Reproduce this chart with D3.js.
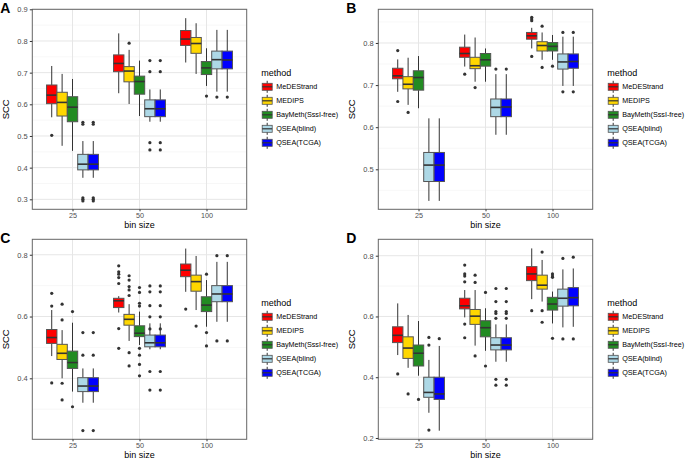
<!DOCTYPE html>
<html><head><meta charset="utf-8">
<script src="https://cdn.jsdelivr.net/npm/d3@7"></script>
<style>body{margin:0;background:#fff}svg{display:block}text{font-family:"Liberation Sans",Arial,sans-serif}</style>
</head><body><svg id="c" width="685" height="460"></svg>
<script>
const bins = ["25", "50", "100"];
const methods = ["MeDEStrand", "MEDIPS", "BayMeth(SssI-free)", "QSEA(blind)", "QSEA(TCGA)"];
const colors = ["#FF0000", "#FFD700", "#228B22", "#ADD8E6", "#0000FF"];
const panelLabels = ["A", "B", "C", "D"];

// each row: [lowWhisker, q1, median, q3, highWhisker]; rows ordered bin-major, method-minor
const statsA = [
  [0.559,0.602,0.629,0.661,0.721],[0.469,0.563,0.606,0.638,0.696],[0.453,0.545,0.591,0.624,0.680],[0.368,0.393,0.411,0.442,0.484],[0.368,0.393,0.411,0.442,0.484],
  [0.635,0.703,0.729,0.756,0.824],[0.601,0.671,0.705,0.719,0.772],[0.563,0.632,0.672,0.689,0.738],[0.545,0.561,0.586,0.614,0.647],[0.545,0.561,0.586,0.614,0.647],
  [0.732,0.786,0.806,0.833,0.872],[0.696,0.761,0.792,0.811,0.856],[0.658,0.694,0.715,0.735,0.777],[0.640,0.712,0.741,0.768,0.835],[0.640,0.712,0.740,0.768,0.835]
];
const outliersA = [
  [0.502],[],[],[0.543,0.537,0.305,0.300,0.295],[0.543,0.537,0.305,0.300,0.295],
  [],[0.793],[],[0.738,0.703,0.479,0.456],[0.738,0.703,0.479,0.456],
  [],[],[0.626],[0.623],[0.623]
];
const statsB = [
  [0.684,0.715,0.722,0.740,0.761],[0.653,0.691,0.702,0.720,0.765],[0.645,0.688,0.718,0.734,0.769],[0.425,0.471,0.510,0.540,0.621],[0.425,0.471,0.510,0.540,0.621],
  [0.744,0.766,0.775,0.790,0.820],[0.708,0.739,0.746,0.766,0.813],[0.708,0.745,0.760,0.775,0.787],[0.582,0.625,0.647,0.667,0.726],[0.582,0.625,0.648,0.667,0.726],
  [0.787,0.809,0.817,0.825,0.836],[0.760,0.781,0.794,0.803,0.825],[0.760,0.781,0.792,0.801,0.819],[0.698,0.738,0.755,0.774,0.815],[0.698,0.740,0.756,0.774,0.815]
];
const outliersB = [
  [0.782,0.661],[0.635],[],[],[],
  [0.726],[0.694],[],[0.738],[0.738],
  [0.861,0.857,0.853,0.768],[0.840,0.742],[0.745],[0.825,0.684],[0.825,0.684]
];
const statsC = [
  [0.472,0.513,0.532,0.558,0.621],[0.400,0.461,0.481,0.510,0.556],[0.357,0.432,0.451,0.488,0.580],[0.321,0.357,0.375,0.402,0.432],[0.321,0.357,0.375,0.402,0.432],
  [0.613,0.629,0.651,0.659,0.666],[0.521,0.572,0.591,0.607,0.640],[0.508,0.535,0.546,0.570,0.616],[0.494,0.502,0.515,0.540,0.578],[0.494,0.502,0.515,0.540,0.578],
  [0.680,0.729,0.750,0.770,0.820],[0.621,0.682,0.713,0.734,0.796],[0.567,0.616,0.637,0.664,0.718],[0.583,0.648,0.673,0.700,0.777],[0.583,0.648,0.673,0.700,0.777]
];
const outliersC = [
  [0.675,0.634,0.385],[0.640,0.589,0.384,0.330],[0.616,0.308],[0.548,0.475,0.231],[0.548,0.475,0.231],
  [0.764,0.745,0.737,0.726,0.707,0.561,0.497],[0.732,0.718,0.697,0.686,0.668,0.483,0.440],[0.694,0.678,0.643,0.634,0.497,0.475,0.445,0.408],[0.699,0.680,0.635,0.599,0.560,0.422,0.362],[0.699,0.680,0.635,0.599,0.560,0.422,0.362],
  [0.624],[0.569],[0.737,0.548,0.505],[0.797,0.521],[0.797,0.521]
];
const statsD = [
  [0.473,0.514,0.538,0.566,0.643],[0.431,0.462,0.496,0.533,0.605],[0.405,0.437,0.479,0.506,0.585],[0.283,0.334,0.350,0.400,0.457],[0.224,0.327,0.345,0.400,0.503],
  [0.597,0.625,0.635,0.660,0.687],[0.504,0.574,0.601,0.623,0.687],[0.487,0.533,0.563,0.586,0.627],[0.451,0.490,0.506,0.530,0.574],[0.451,0.490,0.506,0.530,0.574],
  [0.657,0.718,0.740,0.764,0.824],[0.649,0.690,0.703,0.736,0.786],[0.577,0.621,0.641,0.663,0.682],[0.564,0.634,0.660,0.690,0.755],[0.566,0.635,0.662,0.695,0.758]
];
const outliersD = [
  [0.411],[0.345],[0.327],[0.531,0.506,0.226],[0.527],
  [0.769,0.740,0.733,0.714,0.575,0.530],[0.736,0.712,0.470],[0.679,0.437],[0.692,0.649,0.616,0.610,0.594,0.393,0.374],[0.692,0.649,0.616,0.610,0.594,0.393,0.374],
  [0.619],[0.812,0.619,0.581],[0.740,0.733,0.729,0.528],[0.791,0.526],[0.795,0.526]
];
const yTicksA = [0.3,0.4,0.5,0.6,0.7,0.8,0.9];
const yTicksB = [0.5,0.6,0.7,0.8];
const yTicksC = [0.4,0.6,0.8];
const yTicksD = [0.2,0.4,0.6,0.8];
const yMinorA = [0.35,0.45,0.55,0.65,0.75,0.85];
const yMinorB = [0.45,0.55,0.65,0.75,0.85];
const yMinorC = [0.3,0.5,0.7];
const yMinorD = [0.3,0.5,0.7];
const yDomainA = [0.2685, 0.9];
const yDomainB = [0.405, 0.88];
const yDomainC = [0.2026, 0.85];
const yDomainD = [0.1957, 0.854];

const svg = d3.select("#c");
const panels = [
  {label:panelLabels[0], x0:32.3, x1:246.7, y0:9.3, y1:209.3, dom:yDomainA, ticks:yTicksA, minor:yMinorA, stats:statsA, out:outliersA},
  {label:panelLabels[1], x0:378.3, x1:592.7, y0:9.3, y1:209.3, dom:yDomainB, ticks:yTicksB, minor:yMinorB, stats:statsB, out:outliersB},
  {label:panelLabels[2], x0:32.3, x1:246.7, y0:239.3, y1:439.3, dom:yDomainC, ticks:yTicksC, minor:yMinorC, stats:statsC, out:outliersC},
  {label:panelLabels[3], x0:378.3, x1:592.7, y0:239.3, y1:439.3, dom:yDomainD, ticks:yTicksD, minor:yMinorD, stats:statsD, out:outliersD}
];

panels.forEach((p, pi) => {
  const g = svg.append("g");
  const x = d3.scaleLinear().domain([0.4, 3.6]).range([p.x0, p.x1]);
  const y = d3.scaleLinear().domain(p.dom).range([p.y1, p.y0]);
  const unit = x(1) - x(0);
  const bw = 0.155;
  g.selectAll(".mn").data(p.minor).join("line")
    .attr("x1", p.x0).attr("x2", p.x1).attr("y1", d => y(d)).attr("y2", d => y(d))
    .attr("stroke", "#F2F2F2").attr("stroke-width", 0.6);
  g.selectAll(".mj").data(p.ticks).join("line")
    .attr("x1", p.x0).attr("x2", p.x1).attr("y1", d => y(d)).attr("y2", d => y(d))
    .attr("stroke", "#E6E6E6").attr("stroke-width", 1);
  g.selectAll(".vx").data(bins).join("line")
    .attr("x1", (d,i) => x(i+1)).attr("x2", (d,i) => x(i+1)).attr("y1", p.y0).attr("y2", p.y1)
    .attr("stroke", "#E6E6E6").attr("stroke-width", 1);
  p.stats.forEach((s, k) => {
    const bi = Math.floor(k / 5), mi = k % 5;
    const cx = x(bi + 1 + (mi - 2) * bw);
    const hw = bw * unit / 2;
    const bg = g.append("g");
    bg.append("line").attr("x1", cx).attr("x2", cx).attr("y1", y(s[4])).attr("y2", y(s[3]))
      .attr("stroke", "#333").attr("stroke-width", 1);
    bg.append("line").attr("x1", cx).attr("x2", cx).attr("y1", y(s[1])).attr("y2", y(s[0]))
      .attr("stroke", "#333").attr("stroke-width", 1);
    bg.append("rect").attr("x", cx - hw).attr("width", 2*hw)
      .attr("y", y(s[3])).attr("height", y(s[1]) - y(s[3]))
      .attr("fill", colors[mi]).attr("stroke", "#555").attr("stroke-width", 1);
    bg.append("line").attr("x1", cx - hw).attr("x2", cx + hw).attr("y1", y(s[2])).attr("y2", y(s[2]))
      .attr("stroke", "#333").attr("stroke-width", 1.6);
    bg.selectAll("circle").data(p.out[k]).join("circle")
      .attr("cx", cx).attr("cy", d => y(d)).attr("r", 1.6).attr("fill", "#333");
  });
  g.append("rect").attr("x", p.x0).attr("y", p.y0).attr("width", p.x1 - p.x0).attr("height", p.y1 - p.y0)
    .attr("fill", "none").attr("stroke", "#666").attr("stroke-width", 1);
  const ya = g.append("g").attr("transform", `translate(${p.x0},0)`)
    .call(d3.axisLeft(y).tickValues(p.ticks).tickFormat(d3.format(".1f")).tickSize(2.5).tickPadding(2));
  ya.select(".domain").remove();
  ya.selectAll("line").attr("stroke", "#333");
  ya.selectAll("text").attr("fill", "#4D4D4D").attr("font-size", 7.5);
  const xa = g.append("g").attr("transform", `translate(0,${p.y1})`)
    .call(d3.axisBottom(x).tickValues([1,2,3]).tickFormat((d) => bins[d-1]).tickSize(2).tickPadding(1.5));
  xa.select(".domain").remove();
  xa.selectAll("line").attr("stroke", "#333");
  xa.selectAll("text").attr("fill", "#4D4D4D").attr("font-size", 7.2);
  g.append("text").attr("x", (p.x0 + p.x1)/2).attr("y", p.y1 + 18.7).attr("text-anchor", "middle")
    .attr("font-size", 9).attr("fill", "#000").text("bin size");
  const ytx = p.x0 - 23.5;
  g.append("text").attr("transform", `translate(${ytx},${(p.y0+p.y1)/2}) rotate(-90)`)
    .attr("text-anchor", "middle").attr("font-size", 9.5).attr("fill", "#000").text("SCC");
  g.append("text").attr("x", p.x0 - 32).attr("y", p.y0 + 4).attr("font-size", 14).attr("font-weight", "bold")
    .attr("fill", "#000").text(p.label);
  const lx = p.x1 + 14.5, ly = p.y0 + 63.5;
  const lg = g.append("g").attr("transform", `translate(${lx},${ly})`);
  lg.append("text").attr("x", 0).attr("y", 3).attr("font-size", 9).attr("fill", "#000").text("method");
  methods.forEach((m, i) => {
    const yy = 14 + i * 14;
    const kx = 1, kw = 10;
    lg.append("line").attr("x1", kx + kw/2).attr("x2", kx + kw/2).attr("y1", yy - 6).attr("y2", yy + 6)
      .attr("stroke", "#333").attr("stroke-width", 1);
    lg.append("rect").attr("x", kx).attr("y", yy - 3.5).attr("width", kw).attr("height", 7)
      .attr("fill", colors[i]).attr("stroke", "#555").attr("stroke-width", 0.8);
    lg.append("line").attr("x1", kx).attr("x2", kx + kw).attr("y1", yy).attr("y2", yy)
      .attr("stroke", "#333").attr("stroke-width", 1.2);
    lg.append("text").attr("x", kx + kw + 4).attr("y", yy + 2.6).attr("font-size", 7.2).attr("fill", "#000").text(m);
  });
});
</script></body></html>
